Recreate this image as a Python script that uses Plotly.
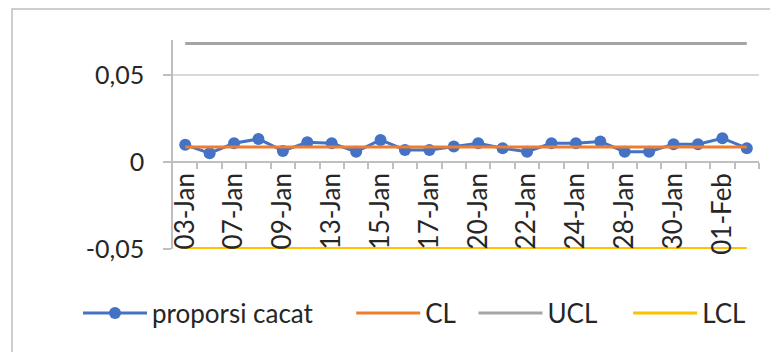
import plotly.graph_objects as go

dates = ["03-Jan", "05-Jan", "07-Jan", "08-Jan", "09-Jan", "11-Jan", "13-Jan", "14-Jan",
         "15-Jan", "16-Jan", "17-Jan", "19-Jan", "20-Jan", "21-Jan", "22-Jan", "23-Jan",
         "24-Jan", "26-Jan", "28-Jan", "29-Jan", "30-Jan", "31-Jan", "01-Feb", "02-Feb"]
proporsi_cacat = [0.0098, 0.0050, 0.0107, 0.0132, 0.0063, 0.0113, 0.0107, 0.0059,
                  0.0126, 0.0069, 0.0069, 0.0088, 0.0107, 0.0079, 0.0059, 0.0107,
                  0.0107, 0.0117, 0.0059, 0.0059, 0.0102, 0.0102, 0.0136, 0.0079]
CL = [0.0086] * len(dates)
UCL = [0.0680] * len(dates)
LCL = [-0.0497] * len(dates)

y_ticks = [-0.05, 0, 0.05]
y_ticktext = ["-0,05", "0", "0,05"]

x = list(range(len(dates)))
FONT = "Lato, Liberation Sans, sans-serif"
NB = "\u00a0"

fig = go.Figure()
fig.add_trace(go.Scatter(x=x, y=proporsi_cacat, name="proporsi cacat" + NB * 5,
                         mode="lines+markers",
                         line=dict(color="#4472C4", width=3),
                         marker=dict(color="#4472C4", size=12)))
fig.add_trace(go.Scatter(x=x, y=CL, name="CL" + NB * 2, mode="lines",
                         line=dict(color="#ED7D31", width=3)))
fig.add_trace(go.Scatter(x=x, y=UCL, name="UCL" + NB * 4, mode="lines",
                         line=dict(color="#A5A5A5", width=3)))
fig.add_trace(go.Scatter(x=x, y=LCL, name="LCL", mode="lines",
                         line=dict(color="#FFC000", width=3)))

# page body adds an 8px offset, so the figure is laid out 8px up/left
L, T, PW, PH = 165, 32, 586, 209
W, H = 770, 344
y_min, y_max = -0.05, 0.07
fig.update_layout(
    width=W, height=H,
    margin=dict(l=L, r=W - L - PW, t=T, b=H - T - PH),
    paper_bgcolor="white", plot_bgcolor="white",
    font=dict(family=FONT, size=25, color="#262626"),
    showlegend=True,
    legend=dict(orientation="h", x=(70 - L) / PW, xanchor="left",
                y=-(305 - 241) / PH, yanchor="middle",
                font=dict(size=26, color="#262626"), itemwidth=64,
                traceorder="normal"),
    xaxis=dict(
        range=[-0.5, len(dates) - 0.5],
        tickmode="array", tickvals=x[::2], ticktext=dates[::2],
        tickangle=-90, ticks="", showgrid=False, zeroline=False,
        showline=True, linecolor="#BFBFBF", linewidth=1.5,
        anchor="free", position=(0 - y_min) / (y_max - y_min),
        tickfont=dict(size=26, color="#262626"),
        minor=dict(tickmode="array", tickvals=[i + 0.5 for i in x],
                   ticks="outside", ticklen=6, tickcolor="#BFBFBF", tickwidth=1.5),
    ),
    yaxis=dict(
        range=[y_min, y_max],
        tickmode="array", tickvals=y_ticks, ticktext=y_ticktext,
        ticks="outside", ticklen=8, tickcolor="#BFBFBF", tickwidth=1.5,
        showgrid=True, gridcolor="#D9D9D9", gridwidth=1.5, zeroline=False,
        showline=True, linecolor="#BFBFBF", linewidth=1.5,
        tickfont=dict(size=25, color="#262626"), ticklabelstandoff=14,
    ),
    shapes=[dict(type="rect", xref="paper", yref="paper",
                 x0=(4 - L) / PW, x1=1.2, y0=-0.8, y1=(241 - 1) / PH,
                 line=dict(color="#BFBFBF", width=1.5), fillcolor="rgba(0,0,0,0)",
                 layer="below")],
)

fig.write_html("out.html")
